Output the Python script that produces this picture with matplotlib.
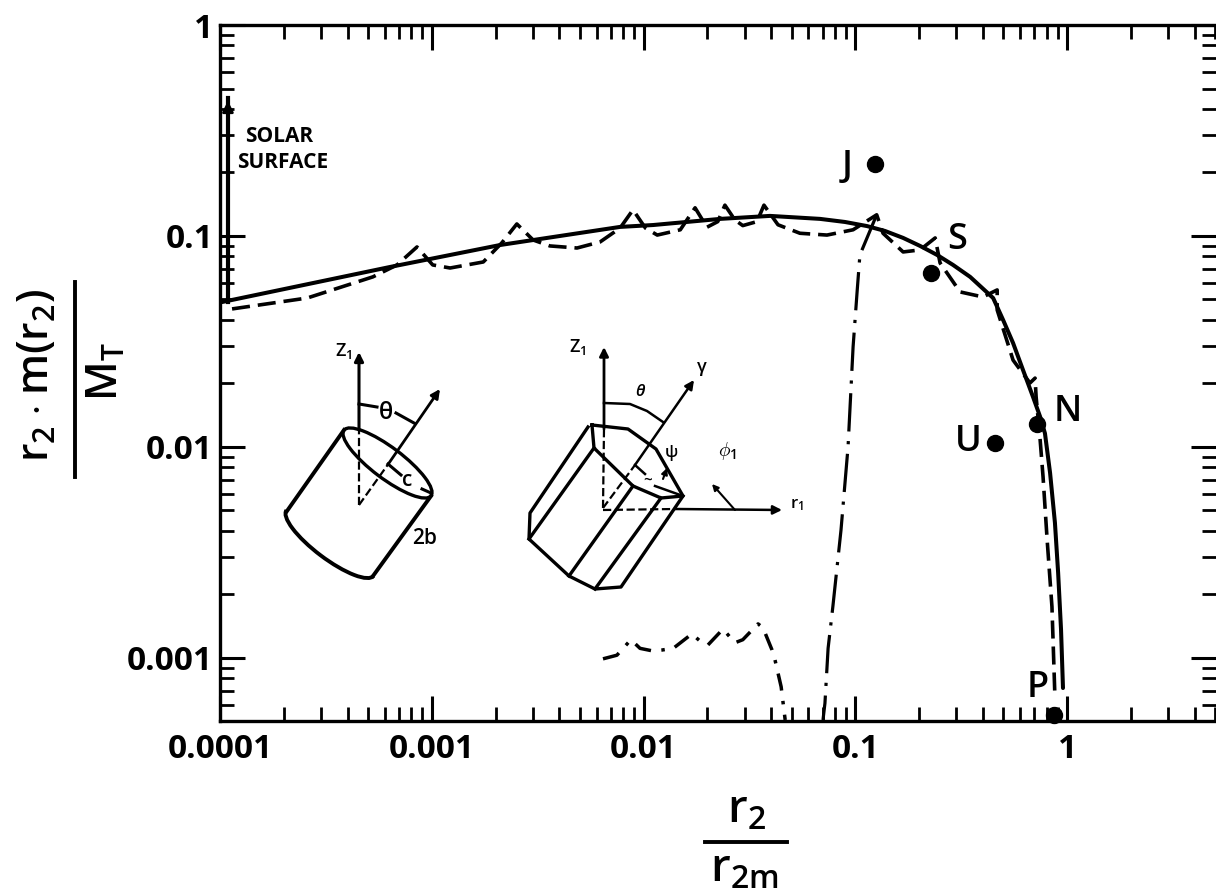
import numpy as np
import matplotlib
matplotlib.use('Agg')
import matplotlib.pyplot as plt
from matplotlib.patches import Arc, Ellipse

plt.rcParams['font.family'] = ['Open Sans', 'DejaVu Sans']
plt.rcParams['font.weight'] = 'semibold'
plt.rcParams['mathtext.fontset'] = 'custom'
plt.rcParams['mathtext.rm'] = 'Open Sans:semibold'
plt.rcParams['mathtext.default'] = 'rm'

# solid curve
solid_x = [1.02e-4, 6.35e-4, 2.10e-3, 7.74e-3, 0.0111, 0.0230, 0.0395, 0.0681, 0.0893, 0.1135, 0.138, 0.168,
           0.202, 0.243, 0.289, 0.348, 0.447, 0.498, 0.555, 0.618, 0.689, 0.745, 0.785, 0.830, 0.875,
           0.906, 0.935, 0.955]
solid_y = [0.0486, 0.0713, 0.0906, 0.1104, 0.1127, 0.1205, 0.1245, 0.1205, 0.1165, 0.1114, 0.1056, 0.0979,
           0.0897, 0.0813, 0.0729, 0.0640, 0.0508, 0.0400, 0.0311, 0.0232, 0.0173, 0.0139, 0.0116, 0.00753, 0.00437,
           0.00253, 0.00136, 0.00072]

# dashed curve with the cusps
dash_x = [1.14e-4, 2.58e-4, 5.27e-4, 6.85e-4, 8.51e-4, 1.01e-3, 1.22e-3, 1.75e-3, 2.14e-3, 2.52e-3,
          3.01e-3, 3.61e-3, 4.85e-3, 6.23e-3, 7.74e-3, 8.91e-3, 0.0102, 0.0116, 0.0149, 0.0175,
          0.0199, 0.0224, 0.0242, 0.0270, 0.0294, 0.0343, 0.0370, 0.0431, 0.0547, 0.0734,
          0.0975, 0.126, 0.135, 0.168, 0.202, 0.238, 0.251, 0.312, 0.400, 0.467,
          0.467, 0.555, 0.667, 0.705, 0.713, 0.745, 0.769, 0.804, 0.847, 0.875]
dash_y = [0.0451, 0.0508, 0.0640, 0.0729, 0.0887, 0.0729, 0.0705, 0.0753, 0.0927, 0.114,
          0.0957, 0.0897, 0.0877, 0.0937, 0.109, 0.133, 0.109, 0.101, 0.107, 0.136,
          0.110, 0.117, 0.140, 0.119, 0.112, 0.117, 0.140, 0.113, 0.103, 0.101,
          0.107, 0.126, 0.103, 0.0840, 0.0859, 0.0979, 0.0745, 0.0543, 0.0514, 0.0555,
          0.0446, 0.0258, 0.0201, 0.0212, 0.0173, 0.0108, 0.00721, 0.00362, 0.00175, 0.00065]

# dash-dot curve, two branches
dd_upper_x = [0.126, 0.105, 0.102, 0.0975, 0.0923, 0.0855, 0.0783, 0.0743, 0.0718, 0.0703]
dd_upper_y = [0.126, 0.0813, 0.0555, 0.0298, 0.0100, 0.00404, 0.00176, 0.00111, 0.00061, 0.000508]
dd_lower_x = [0.00643, 0.00748, 0.00871, 0.00962, 0.0110, 0.0122, 0.0138, 0.0169, 0.0185, 0.0201,
              0.0237, 0.0270, 0.0294, 0.0347, 0.0366, 0.0404, 0.0417, 0.0446, 0.0466]
dd_lower_y = [0.00099, 0.00103, 0.00122, 0.00111, 0.00108, 0.00109, 0.00111, 0.00130, 0.00120, 0.00115,
              0.00137, 0.00118, 0.00122, 0.00145, 0.00139, 0.00109, 0.00098, 0.00073, 0.000508]

# planets
planet_names = ['J', 'S', 'U', 'N', 'P']
planet_x = [0.124, 0.2275, 0.456, 0.719, 0.867]
planet_y = [0.219, 0.0668, 0.01045, 0.01285, 0.000537]

solar_x = [1.09e-4, 1.09e-4]
solar_y = [0.0486, 0.451]

x_ticks = [1e-4, 1e-3, 1e-2, 1e-1, 1]
x_tick_labels = ['0.0001', '0.001', '0.01', '0.1', '1']
y_ticks = [1e-3, 1e-2, 1e-1, 1]
y_tick_labels = ['0.001', '0.01', '0.1', '1']

W, H = 1216, 894
fig = plt.figure(figsize=(W / 100, H / 100), dpi=100)
ax = fig.add_axes([220 / W, 1 - 720.7 / H, (W - 220) / W, (720.7 - 25) / H])
ax.set_xscale('log')
ax.set_yscale('log')
ax.set_xlim(1e-4, 5.04)
ax.set_ylim(5.04e-4, 1.0)

ax.plot(solid_x, solid_y, color='k', lw=2.9, solid_capstyle='round')
ax.plot(dash_x, dash_y, color='k', lw=2.6, ls=(0, (5, 2.2)))
ax.plot(dd_upper_x, dd_upper_y, color='k', lw=2.3, ls=(0, (12, 3, 1, 3)))
ax.plot(dd_lower_x, dd_lower_y, color='k', lw=2.5, ls=(0, (5, 3, 1, 3)))
ax.plot(solar_x, solar_y, color='k', lw=3)
ax.annotate('', xy=(solar_x[1], solar_y[1]), xytext=(solar_x[1], 0.3),
            arrowprops=dict(arrowstyle='-|>', color='k', lw=2, mutation_scale=16))
ax.plot(planet_x, planet_y, 'o', color='k', ms=11.5, clip_on=False, zorder=5)

ax.spines['right'].set_visible(False)
for side in ['left', 'top', 'bottom']:
    ax.spines[side].set_linewidth(2.4)

ax.set_xticks(x_ticks)
ax.set_xticklabels(x_tick_labels, fontweight='bold')
ax.set_yticks(y_ticks)
ax.set_yticklabels(y_tick_labels, fontweight='bold')
ax.tick_params(which='major', direction='in', top=True, right=True, length=18, width=2.2,
               labelsize=24)
ax.tick_params(which='minor', direction='in', top=True, right=True, length=10, width=2.0,
               labelleft=False, labelbottom=False)
ax.tick_params(axis='x', which='major', pad=9)
ax.tick_params(axis='y', which='major', pad=5)
ax.xaxis.set_minor_locator(matplotlib.ticker.LogLocator(10, subs=range(2, 10), numticks=12))
ax.yaxis.set_minor_locator(matplotlib.ticker.LogLocator(10, subs=range(2, 10), numticks=12))

# overlay in pixels for the labels and the two sketches
ov = fig.add_axes([0, 0, 1, 1])
ov.set_xlim(0, W)
ov.set_ylim(H, 0)
ov.axis('off')
ov.patch.set_alpha(0)


def line(pts, style='-', lw=2.2):
    pts = np.array(pts)
    ov.plot(pts[:, 0], pts[:, 1], color='k', lw=lw, ls=style, solid_joinstyle='round')


def arrow(p0, p1, lw=1.8, scale=13):
    ov.annotate('', xy=p1, xytext=p0,
                arrowprops=dict(arrowstyle='-|>', color='k', lw=lw, mutation_scale=scale,
                                shrinkA=0, shrinkB=0))


for name, px, py in zip(planet_names, [847, 957, 968, 1068, 1038], [167, 240, 442, 412, 688]):
    ov.text(px, py, name, fontsize=26, ha='center', va='center')
ov.text(279, 137, 'SOLAR', fontsize=15, fontweight='bold', ha='center', va='center')
ov.text(283, 163, 'SURFACE', fontsize=15, fontweight='bold', ha='center', va='center')

# axis titles, written as fractions
ov.text(37, 375, r'$r_2 \cdot m(r_2)$', fontsize=31, rotation=90, ha='center', va='center')
line([(75, 282), (75, 477)], lw=2.8)
ov.text(106, 372, r'$M_T$', fontsize=31, rotation=90, ha='center', va='center')
ov.text(747, 811, r'$r_2$', fontsize=33, ha='center', va='center')
line([(705, 842), (787, 842)], lw=2.8)
ov.text(744, 870, r'$r_{2m}$', fontsize=33, ha='center', va='center')

# cylinder sketch
arrow((359, 430), (359, 352), lw=2.2)
line([(359, 505), (359, 430)], '--', 1.6)
line([(359, 505), (389, 463)], '--', 1.6)
arrow((389, 463), (440, 389), lw=2.0)
ov.add_patch(Ellipse((387.5, 463), 109, 31, angle=37, fill=False, ec='k', lw=2.4))
ov.add_patch(Arc((330, 543), 109, 31, angle=37, theta1=0, theta2=180, ec='k', lw=2.8))
line([(344, 430), (287, 511)], lw=2.8)
line([(373, 576), (431, 496)], lw=2.8)
line([(388, 464), (401, 475)])
line([(422, 489), (431, 493)])
line([(359, 404), (377, 407)])
line([(396, 413), (414, 423)])
ov.text(386, 413, '\u03b8', fontsize=17, ha='center', va='center')
ov.text(344, 351, r'$Z_1$', fontsize=13, ha='center', va='center')
ov.text(407, 481, 'c', fontsize=15, ha='center', va='center')
ov.text(425, 539, '2b', fontsize=15, ha='center', va='center')

# prism sketch
arrow((604, 429), (604, 347), lw=2.0)
line([(603, 508), (604, 429)], '--', 1.6)
line([(603, 508), (635, 465)], '--', 1.6)
arrow((635, 465), (694, 380), lw=1.8)
line([(592, 425), (628, 429), (656, 449), (683, 496), (661, 498), (633, 486), (594, 448), (592, 425)], lw=2.4)
line([(588, 427), (530, 513), (529, 539), (569, 576), (595, 589), (621, 587), (683, 496)], lw=2.4)
line([(594, 448), (529, 539)], lw=2.4)
line([(633, 486), (569, 576)], lw=2.4)
line([(661, 498), (595, 589)], lw=2.4)
line([(603, 510), (675, 509)], '--', 1.6)
arrow((675, 509), (782, 510), lw=1.8)
line([(604, 403), (630, 404), (647, 411), (663, 422)], lw=1.8)
line([(635, 465), (645, 474)], lw=1.8)
line([(655, 486), (683, 496)], lw=1.8)
arrow((663, 479), (667, 468), lw=1.5, scale=9)
arrow((735, 510), (712, 484), lw=1.5, scale=9)
ov.text(640, 392, '\u03b8', fontsize=12, style='italic', ha='center', va='center')
ov.text(702, 367, '\u03b3', fontsize=13, ha='center', va='center')
ov.text(671, 453, '\u03c8', fontsize=12, ha='center', va='center')
ov.text(648, 480, '~', fontsize=11, ha='center', va='center')
ov.text(727, 451, r'$\phi_1$', fontsize=14, ha='center', va='center')
ov.text(797, 505, r'$r_1$', fontsize=12, ha='center', va='center')
ov.text(578, 347, r'$Z_1$', fontsize=13, ha='center', va='center')

fig.savefig('out.png', dpi=100)
